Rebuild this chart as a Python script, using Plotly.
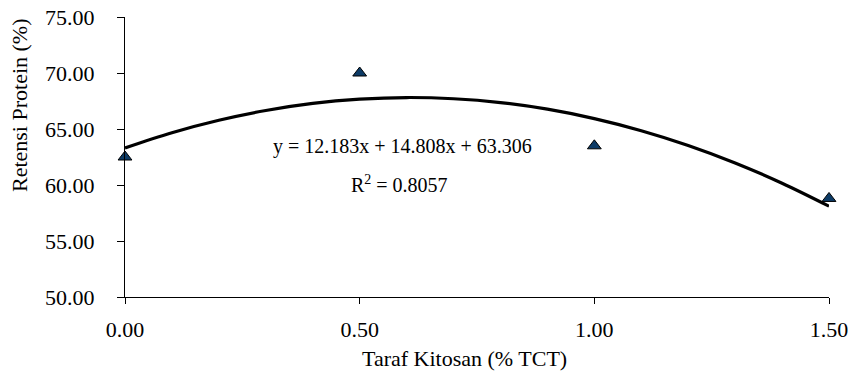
import plotly.graph_objects as go

# Observed data
taraf = [0.0, 0.5, 1.0, 1.5]
retensi = [62.5, 70.0, 63.5, 58.8]

# Trend line (polynomial trendline)
trend_x = [0.0, 0.1, 0.2, 0.3, 0.4, 0.5, 0.6, 0.7, 0.8, 0.9, 1.0, 1.1, 1.2, 1.3, 1.4, 1.5]
trend_y = [63.31, 64.67, 65.78, 66.65, 67.28, 67.66, 67.81, 67.70, 67.36, 66.77, 65.93,
           64.85, 63.53, 61.97, 60.16, 58.11]

x_ticks = [0.0, 0.5, 1.0, 1.5]
x_ticklabels = ["0.00", "0.50", "1.00", "1.50"]
y_ticks = [50, 55, 60, 65, 70, 75]
y_ticklabels = ["50.00", "55.00", "60.00", "65.00", "70.00", "75.00"]

eq_text = "y = 12.183x + 14.808x + 63.306"
r2_text = "R<sup>2</sup> = 0.8057"

FONT = "Liberation Serif"

fig = go.Figure()
fig.add_trace(go.Scatter(
    x=trend_x, y=trend_y, mode="lines",
    line=dict(color="black", width=3.2, shape="spline"),
    hoverinfo="skip", showlegend=False, cliponaxis=False))
fig.add_trace(go.Scatter(
    x=taraf, y=retensi, mode="markers",
    marker=dict(symbol="triangle-up", size=12, color="#0d3b66",
                line=dict(color="black", width=1)),
    showlegend=False, cliponaxis=False))

fig.update_layout(
    width=848, height=377,
    margin=dict(l=125, r=19, t=17, b=80, autoexpand=False),
    paper_bgcolor="white", plot_bgcolor="white",
    font=dict(family=FONT, size=22, color="black"),
    xaxis=dict(range=[0, 1.5], tickvals=x_ticks, ticktext=x_ticklabels,
               showgrid=False, zeroline=False, showline=True, linecolor="black",
               linewidth=1.2, ticks="outside", ticklen=6, tickcolor="black",
               automargin=False, ticklabelstandoff=6, ticklabeloverflow="allow",
               tickfont=dict(family=FONT, size=22, color="black")),
    yaxis=dict(range=[50, 75], tickvals=y_ticks, ticktext=y_ticklabels,
               showgrid=False, zeroline=False, showline=True, linecolor="black",
               linewidth=1.2, ticks="outside", ticklen=7, tickcolor="black",
               automargin=False, ticklabelstandoff=18, ticklabeloverflow="allow",
               tickfont=dict(family=FONT, size=22, color="black")),
    annotations=[
        dict(x=0.591, y=63.48, xref="x", yref="y", text=eq_text, showarrow=False,
             xanchor="center", yanchor="middle",
             font=dict(family=FONT, size=20, color="black")),
        dict(x=0.585, y=60.09, xref="x", yref="y", text=r2_text, showarrow=False,
             xanchor="center", yanchor="middle",
             font=dict(family=FONT, size=20, color="black")),
        dict(x=-0.149, y=0.686, xref="paper", yref="paper", text="Retensi Protein (%)",
             showarrow=False, textangle=-90, xanchor="center", yanchor="middle",
             font=dict(family=FONT, size=22, color="black")),
        dict(x=0.482, y=-0.218, xref="paper", yref="paper", text="Taraf Kitosan (% TCT)",
             showarrow=False, xanchor="center", yanchor="middle",
             font=dict(family=FONT, size=22, color="black")),
    ],
)

fig.write_html("out.html", config={"displayModeBar": False},
               post_script="document.body.style.margin='0';")
